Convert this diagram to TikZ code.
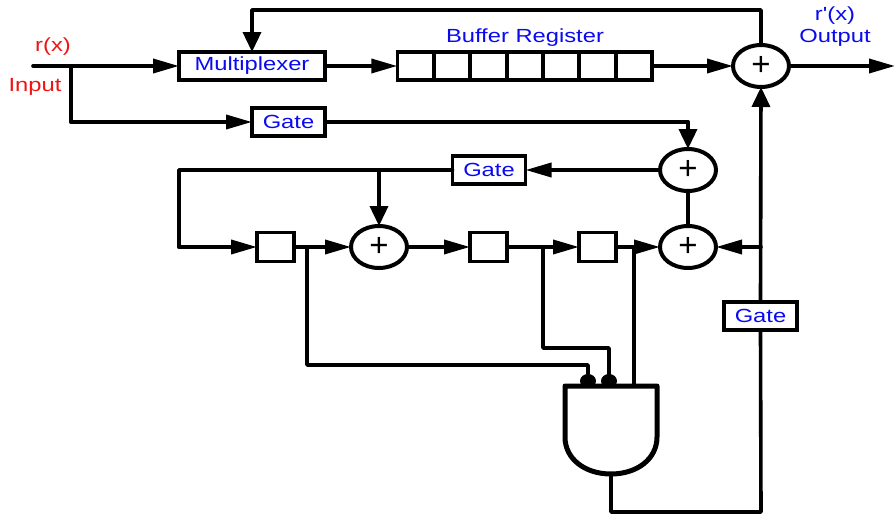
\documentclass[tikz,border=0pt]{standalone}
\usepackage{fontspec}
\setmainfont[FakeStretch=1.25]{Liberation Sans}
\newfontfamily\plainfont[FakeStretch=1.25]{Liberation Sans}
\newfontfamily\plusfont{Liberation Sans}
\usetikzlibrary{arrows.meta,shapes.geometric}
\definecolor{lblblue}{RGB}{10,10,240}
\definecolor{lblred}{RGB}{240,20,20}
\tikzset{
  x=1pt,y=-1pt,
  wire/.style={line width=3.6pt,line cap=round,line join=round},
  arr/.style={wire,-{Triangle[length=26pt,width=14pt]}},
  varr/.style={wire,-{Triangle[length=20pt,width=18pt]}},
  boxed/.style={draw,line width=3.6pt,fill=white,inner sep=0pt,outer sep=0pt,text=lblblue,font=\fontsize{19}{21}\selectfont},
  gatebox/.style={boxed,minimum width=73pt,minimum height=28pt},
  cell/.style={draw,line width=3.6pt,fill=white,inner sep=0pt,outer sep=0pt,minimum width=36.4pt,minimum height=28pt},
  reg/.style={draw,line width=3.6pt,fill=white,inner sep=0pt,outer sep=0pt,minimum width=37pt,minimum height=29pt},
  xorgate/.style={ellipse,draw,line width=4pt,fill=white,inner sep=0pt,outer sep=0pt,minimum width=56pt,minimum height=42pt,font=\plusfont\fontsize{33}{33}\selectfont},
  lbl/.style={inner sep=0pt,font=\fontsize{19}{21}\selectfont},
  tap/.style={ellipse,fill=black,inner sep=0pt,minimum width=16pt,minimum height=14pt}
}
\begin{document}
\begin{tikzpicture}
\useasboundingbox (0,0) rectangle (895,514);
% nodes
\node[boxed,minimum width=146pt,minimum height=28pt] (mux) at (252,66) {\raisebox{-2pt}{Multiplexer}};
\foreach \n/\cx in {c1/415.5,c2/452,c3/488.5,c4/525,c5/561,c6/597.5,c7/634}
  \node[cell] (\n) at (\cx,66) {};
\node[xorgate] (sumA) at (761,66) {+};
\node[gatebox] (gateA) at (288.5,122) {Gate};
\node[gatebox] (gateB) at (489,170) {Gate};
\node[gatebox] (gateC) at (760.5,316) {Gate};
\node[xorgate] (sumB) at (688,170) {+};
\node[xorgate] (sumC) at (688,247) {+};
\node[xorgate] (sumD) at (379,247) {+};
\node[reg] (r1) at (275.5,247) {};
\node[reg] (r2) at (488.5,247) {};
\node[reg] (r3) at (597.5,247) {};
\node[lbl,text=lblred] (lr) at (53,47) {r(x)};
\node[lbl,text=lblred] (li) at (35,87) {Input};
\node[lbl,text=lblblue] (lb) at (525,37.5) {Buffer Register};
\node[lbl,text=lblblue] (lp) at (835,16) {\plainfont r'(x)};
\node[lbl,text=lblblue] (lo) at (835,37.5) {Output};
% free ends
\coordinate (in) at (33,66);
\coordinate (inB) at (71,66);
\coordinate (inC) at (71,122);
\coordinate (fbTopR) at (761,10);
\coordinate (fbTopL) at (252,10);
\coordinate (out) at (895,66);
\coordinate (turnA) at (688,122);
\coordinate (turnB) at (179,170);
\coordinate (turnC) at (179,247);
\coordinate (tapD) at (379,170);
\coordinate (tapSC) at (761,247);
\coordinate (tapR1) at (307,247);
\coordinate (tapR2) at (543,247);
\coordinate (tapR3) at (634,247);
\coordinate (t1a) at (307,365);
\coordinate (t1b) at (588,365);
\coordinate (t2a) at (543,348);
\coordinate (t2b) at (609,348);
\coordinate (andTopR) at (634,386);
\coordinate (andOut) at (611,475);
\coordinate (b1) at (611,512);
\coordinate (b2) at (761,512);
\node[tap] (d1) at (588,381) {};
\node[tap] (d2) at (609,381) {};
% connectors
\draw[arr] (in) -- (mux);
\draw[wire] (inB) -- (inC);
\draw[arr] (inC) -- (gateA);
\draw[arr] (mux) -- (c1);
\draw[arr] (c7) -- (sumA);
\draw[arr] (sumA) -- (out);
\draw[varr] (sumA.north) -- (fbTopR) -- (fbTopL) -- (mux.north);
\draw[wire] (gateA) -- (turnA);
\draw[varr] (turnA) -- (sumB);
\draw[arr] (sumB) -- (gateB);
\draw[wire] (gateB) -- (turnB) -- (turnC);
\draw[arr] (turnC) -- (r1);
\draw[varr] (tapD) -- (sumD);
\draw[arr] (r1) -- (sumD);
\draw[arr] (sumD) -- (r2);
\draw[arr] (r2) -- (r3);
\draw[arr] (r3) -- (sumC);
\draw[wire] (sumB) -- (sumC);
\draw[varr] (gateC.north) -- (sumA.south);
\draw[arr] (tapSC) -- (sumC);
\draw[wire] (tapR1) -- (t1a) -- (t1b) -- (d1);
\draw[wire] (tapR2) -- (t2a) -- (t2b) -- (d2);
\draw[wire] (tapR3) -- (andTopR);
\draw[wire] (andOut) -- (b1) -- (b2) -- (gateC.south);
% AND gate
\draw[line width=5pt,line join=round,fill=white] (565,386) -- (657,386) -- (657,437)
  .. controls (657,459) and (637,474) .. (611,474)
  .. controls (585,474) and (565,459) .. (565,437) -- cycle;
\end{tikzpicture}
\end{document}
